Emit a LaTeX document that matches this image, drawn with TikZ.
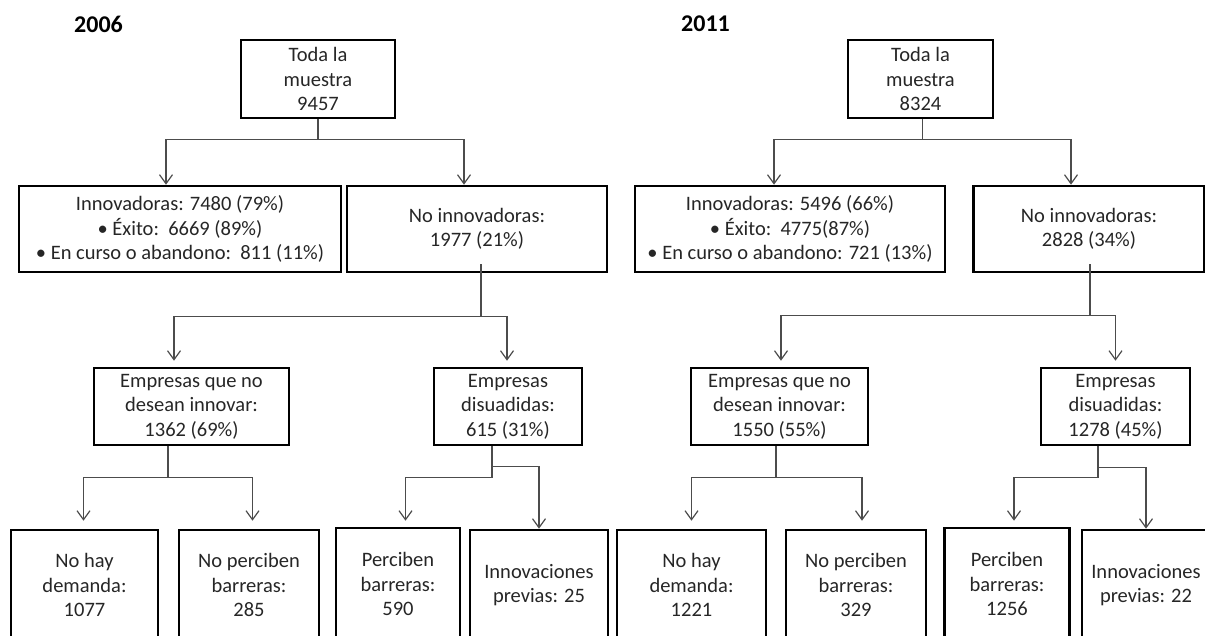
\documentclass[tikz,border=0pt]{standalone}
\usepackage{fontspec}
\setmainfont{Carlito}
\usetikzlibrary{arrows.meta}

\tikzset{
  caja/.style={draw=black, line width=2.6pt, align=center, inner sep=0pt,
    text=black!85, font=\fontsize{20.5}{24.5}\selectfont},
  enlace/.style={draw=black!70, line width=1.2pt},
  flecha/.style={enlace, -{Straight Barb[length=9pt,width=13pt]}},
  anio/.style={font=\bfseries\fontsize{24}{28}\selectfont}
}

\begin{document}
\begin{tikzpicture}[x=1pt,y=-1pt]
\useasboundingbox (0,0) rectangle (1205,635);

% 2006
\node[anio] (t06) at (98.5,24) {2006};
\node[caja, minimum width=154pt, minimum height=78pt] (root06) at (318,79) {Toda la\\muestra\\9457};
\node[caja, minimum width=322pt, minimum height=86pt] (innov06) at (180,229)
  {Innovadoras: 7480 (79\%)\\• Éxito:\ \ 6669 (89\%)\\• En curso o abandono:\ \ 811 (11\%)};
\node[caja, minimum width=260pt, minimum height=86pt] (noinn06) at (477,229) {No innovadoras:\\1977 (21\%)};
\node[caja, minimum width=195pt, minimum height=77pt] (quiere06) at (191.5,406.5) {Empresas que no\\desean innovar:\\1362 (69\%)};
\node[caja, minimum width=148pt, minimum height=77pt] (disu06) at (508,406.5) {Empresas\\disuadidas:\\615 (31\%)};
\node[caja, minimum width=147pt, minimum height=110pt] (demanda06) at (84.5,585) {No hay\\demanda:\\1077};
\node[caja, minimum width=140pt, minimum height=110pt] (perc06) at (249,585) {No perciben\\barreras:\\285};
\node[caja, minimum width=124pt, minimum height=112pt] (barr06) at (398,584) {Perciben\\barreras:\\590};
\node[caja, minimum width=138pt, minimum height=110pt] (prev06) at (539,585) {Innovaciones\\previas: 25};

\draw[flecha] (root06.south) -- ++(0,20) -| ([xshift=-14pt]innov06.north);
\draw[flecha] (root06.south) -- ++(0,20) -| ([xshift=-13pt]noinn06.north);
\draw[flecha] ([xshift=4pt,yshift=9pt]noinn06.south) -- ++(0,52) -| ([xshift=-17.5pt,yshift=6pt]quiere06.north);
\draw[flecha] ([xshift=4pt,yshift=9pt]noinn06.south) -- ++(0,52) -| ([xshift=-1pt,yshift=6pt]disu06.north);
\draw[flecha] ([xshift=-23.5pt]quiere06.south) -- ++(0,31) -| ([xshift=-1pt,yshift=8pt]demanda06.north);
\draw[flecha] ([xshift=-23.5pt]quiere06.south) -- ++(0,31) -| ([xshift=3.5pt,yshift=8pt]perc06.north);
\draw[flecha] ([xshift=-16pt]disu06.south) -- ++(0,31) -| ([xshift=7.5pt,yshift=6pt]barr06.north);
\draw[flecha] ([xshift=-16pt]disu06.south) -- ++(0,20) -| (prev06.north);

% 2011
\node[anio] (t11) at (705.5,24) {2011};
\node[caja, minimum width=145pt, minimum height=78pt] (root11) at (920.5,79) {Toda la\\muestra\\8324};
\node[caja, minimum width=310pt, minimum height=86pt] (innov11) at (790,229)
  {Innovadoras: 5496 (66\%)\\• Éxito:\ \ 4775(87\%)\\• En curso o abandono: 721 (13\%)};
\node[caja, minimum width=231pt, minimum height=86pt] (noinn11) at (1089,229) {No innovadoras:\\2828 (34\%)};
\node[caja, minimum width=177pt, minimum height=77pt] (quiere11) at (779.5,406.5) {Empresas que no\\desean innovar:\\1550 (55\%)};
\node[caja, minimum width=149pt, minimum height=77pt] (disu11) at (1115.5,406.5) {Empresas\\disuadidas:\\1278 (45\%)};
\node[caja, minimum width=149pt, minimum height=110pt] (demanda11) at (691.5,585) {No hay\\demanda:\\1221};
\node[caja, minimum width=140pt, minimum height=110pt] (perc11) at (856,585) {No perciben\\barreras:\\329};
\node[caja, minimum width=125.5pt, minimum height=112pt] (barr11) at (1007,584) {Perciben\\barreras:\\1256};
\node[caja, minimum width=128pt, minimum height=110pt] (prev11) at (1146,585) {Innovaciones\\previas: 22};

\draw[flecha] ([xshift=2pt]root11.south) -- ++(0,20) -| ([xshift=-16pt]innov11.north);
\draw[flecha] ([xshift=2pt]root11.south) -- ++(0,20) -| ([xshift=-18pt]noinn11.north);
\draw[flecha] ([xshift=1pt,yshift=9pt]noinn11.south) -- ++(0,51) -| ([xshift=1.5pt,yshift=6pt]quiere11.north);
\draw[flecha] ([xshift=1pt,yshift=9pt]noinn11.south) -- ++(0,51) -| ([yshift=6pt]disu11.north);
\draw[flecha] ([xshift=-3.5pt]quiere11.south) -- ++(0,31) -| ([yshift=8pt]demanda11.north);
\draw[flecha] ([xshift=-3.5pt]quiere11.south) -- ++(0,31) -| ([xshift=6pt,yshift=8pt]perc11.north);
\draw[flecha] ([xshift=-17.5pt]disu11.south) -- ++(0,31) -| ([xshift=7pt,yshift=6pt]barr11.north);
\draw[flecha] ([xshift=-17.5pt]disu11.south) -- ++(0,21) -| (prev11.north);

\end{tikzpicture}
\end{document}
